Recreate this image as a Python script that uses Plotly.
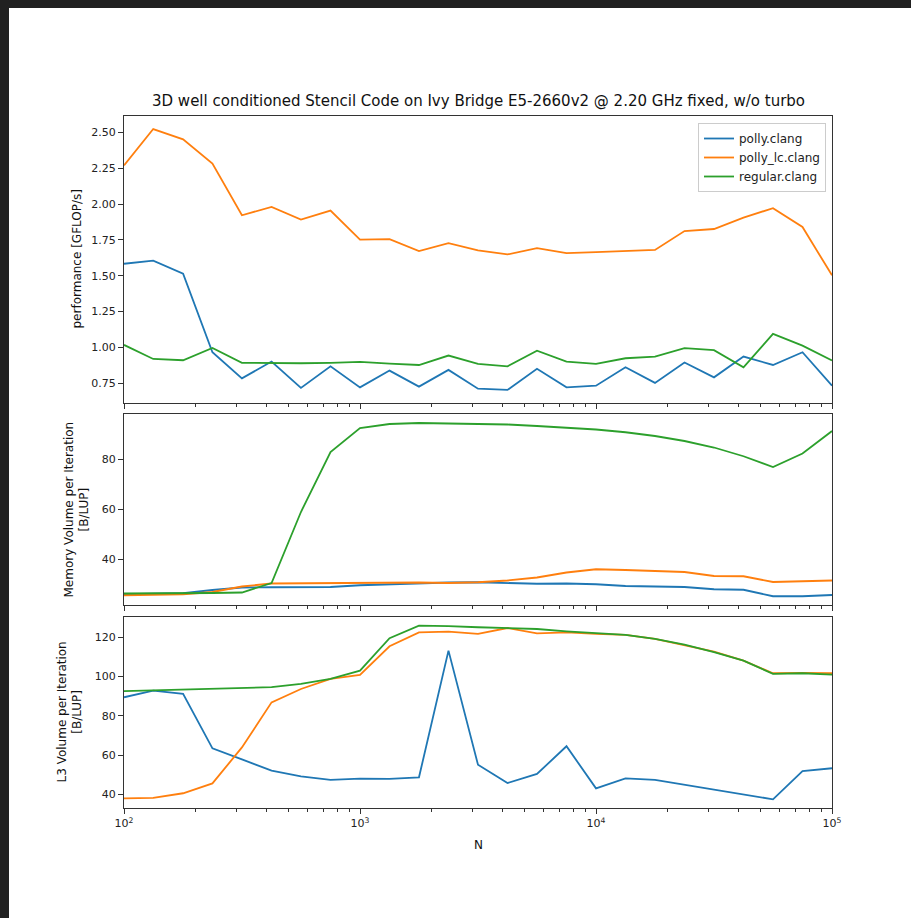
import plotly.graph_objects as go

# ---------------- data ----------------
N = [100, 133, 178, 237, 316, 422, 562, 750, 1000, 1334, 1778, 2371, 3162,
     4217, 5623, 7499, 10000, 13335, 17783, 23714, 31623, 42170, 56234, 74989, 100000]

series_names = ["polly.clang", "polly_lc.clang", "regular.clang"]

perf_polly = [1.584, 1.605, 1.514, 0.967, 0.785, 0.902, 0.718, 0.869, 0.722, 0.839, 0.727, 0.844,
              0.713, 0.704, 0.851, 0.722, 0.734, 0.862, 0.753, 0.895, 0.792, 0.937, 0.878, 0.967, 0.734]
perf_polly_lc = [2.27, 2.523, 2.451, 2.283, 1.922, 1.98, 1.892, 1.955, 1.752, 1.756, 1.672, 1.728,
                 1.677, 1.649, 1.693, 1.658, 1.665, 1.672, 1.68, 1.812, 1.826, 1.906, 1.971, 1.84, 1.503]
perf_regular = [1.018, 0.920, 0.911, 0.997, 0.893, 0.89, 0.89, 0.893, 0.90, 0.888, 0.878, 0.944,
                0.886, 0.869, 0.978, 0.902, 0.886, 0.925, 0.937, 0.995, 0.981, 0.862, 1.095, 1.013, 0.909]

mem_polly = [26.1, 26.3, 26.5, 27.8, 28.8, 28.9, 28.9, 29.0, 29.7, 30.1, 30.4, 30.8, 30.9,
             30.5, 30.3, 30.4, 30.1, 29.4, 29.2, 29.0, 28.1, 27.9, 25.3, 25.3, 25.8]
mem_polly_lc = [25.7, 25.9, 26.1, 27.0, 29.2, 30.4, 30.5, 30.5, 30.6, 30.7, 30.8, 30.6, 30.9,
                31.6, 32.8, 34.8, 36.1, 35.8, 35.4, 35.0, 33.4, 33.3, 31.0, 31.3, 31.6]
mem_regular = [26.4, 26.4, 26.6, 26.6, 26.8, 30.6, 59.0, 83.0, 92.6, 94.2, 94.6, 94.5, 94.3,
               94.0, 93.4, 92.8, 92.0, 90.9, 89.4, 87.4, 84.8, 81.3, 77.0, 82.4, 91.4]

l3_polly = [89.5, 92.9, 91.2, 63.5, 57.9, 52.2, 49.3, 47.5, 48.1, 48.0, 48.8, 113.2, 55.2,
            45.9, 50.5, 64.6, 43.2, 48.3, 47.5, 45.1, 42.4, 40.2, 37.6, 51.9, 53.4]
l3_polly_lc = [38.1, 38.3, 40.7, 45.7, 64.0, 86.9, 93.7, 98.8, 100.9, 115.4, 122.5, 122.9, 121.7,
               124.7, 122.0, 122.5, 121.7, 121.2, 119.2, 116.1, 112.7, 108.1, 101.7, 101.9, 101.8]
l3_regular = [92.6, 93.0, 93.3, 93.6, 94.0, 94.6, 96.3, 98.8, 103.0, 119.5, 125.9, 125.7, 125.1,
              124.6, 124.2, 123.0, 122.0, 121.2, 119.2, 116.3, 112.4, 108.1, 101.4, 101.7, 101.0]

x_tickvals = [100, 1000, 10000, 100000]
x_ticktext = ["10<sup>2</sup>", "10<sup>3</sup>", "10<sup>4</sup>", "10<sup>5</sup>"]

title_text = "3D well conditioned Stencil Code on Ivy Bridge E5-2660v2 @ 2.20 GHz fixed, w/o turbo"
ylabel_top = "performance [GFLOP/s]"
ylabel_mid = "Memory Volume per Iteration<br>[B/LUP]"
ylabel_bot = "L3 Volume per Iteration<br>[B/LUP]"

# ---------------- style ----------------
colors = ["#1f77b4", "#ff7f0e", "#2ca02c"]
FONT = "DejaVu Sans"
AX = "#333333"
DARK = "#212121"
W, H = 911, 918
L, R, T, B = 124, 832, 116, 808  # plot area in pixels
PW, PH = R - L, B - T


def py(p):
    return (B - p) / PH


def px(p):
    return (p - L) / PW


fig = go.Figure()

panels = [
    ("x", "y", [perf_polly, perf_polly_lc, perf_regular], True),
    ("x2", "y2", [mem_polly, mem_polly_lc, mem_regular], False),
    ("x3", "y3", [l3_polly, l3_polly_lc, l3_regular], False),
]
for xa, ya, series, show in panels:
    for name, vals, c in zip(series_names, series, colors):
        fig.add_trace(go.Scatter(x=N, y=vals, mode="lines", name=name,
                                 line=dict(color=c, width=1.8),
                                 xaxis=xa, yaxis=ya, showlegend=show))

common_x = dict(type="log", range=[2, 5], showline=True, linecolor=AX, linewidth=1,
                mirror=True, ticks="outside", ticklen=5, tickcolor=AX, showgrid=False,
                zeroline=False, tickvals=x_tickvals, ticktext=x_ticktext,
                minor=dict(ticks="outside", ticklen=3, tickcolor=AX, dtick="D1", showgrid=False),
                tickfont=dict(family=FONT, size=11, color="#222"))
common_y = dict(showline=True, linecolor=AX, linewidth=1, mirror=True, ticks="outside",
                ticklen=5, tickcolor=AX, showgrid=False, zeroline=False,
                tickfont=dict(family=FONT, size=11, color="#222"))

fig.update_layout(
    width=W, height=H,
    margin=dict(l=L, r=W - R, t=T, b=H - B),
    paper_bgcolor=DARK, plot_bgcolor="white",
    showlegend=True,
    xaxis=dict(common_x, domain=[0, 1], anchor="y", matches="x3", showticklabels=False),
    xaxis2=dict(common_x, domain=[0, 1], anchor="y2", matches="x3", showticklabels=False),
    xaxis3=dict(common_x, domain=[0, 1], anchor="y3"),
    yaxis=dict(common_y, domain=[py(403), 1.0], anchor="x", range=[0.613, 2.614],
               tickvals=[0.75, 1.0, 1.25, 1.5, 1.75, 2.0, 2.25, 2.5], tickformat=".2f"),
    yaxis2=dict(common_y, domain=[py(605), py(414)], anchor="x2", range=[21.8, 98.2],
                tickvals=[40, 60, 80]),
    yaxis3=dict(common_y, domain=[0, py(617)], anchor="x3", range=[33.2, 130.3],
                tickvals=[40, 60, 80, 100, 120]),
    legend=dict(x=px(826), y=py(123), xanchor="right", yanchor="top",
                bgcolor="white", bordercolor="#cccccc", borderwidth=1,
                font=dict(family=FONT, size=12, color="#222"),
                itemwidth=30, tracegroupgap=0),
    shapes=[dict(type="rect", xref="paper", yref="paper", layer="below",
                 x0=px(9), x1=px(W + 20), y0=py(H + 20), y1=py(8),
                 fillcolor="white", line=dict(width=0))],
    annotations=[
        dict(text=title_text, xref="paper", yref="paper", x=0.5, y=py(101),
             xanchor="center", yanchor="middle", showarrow=False,
             font=dict(family=FONT, size=15, color="#111")),
        dict(text=ylabel_top, xref="paper", yref="y domain", x=px(76), y=0.5,
             xanchor="center", yanchor="middle", textangle=-90, showarrow=False,
             font=dict(family=FONT, size=12, color="#111")),
        dict(text=ylabel_mid, xref="paper", yref="y2 domain", x=px(76), y=0.5,
             xanchor="center", yanchor="middle", textangle=-90, showarrow=False,
             font=dict(family=FONT, size=12, color="#111")),
        dict(text=ylabel_bot, xref="paper", yref="y3 domain", x=px(69), y=0.5,
             xanchor="center", yanchor="middle", textangle=-90, showarrow=False,
             font=dict(family=FONT, size=12, color="#111")),
        dict(text="N", xref="paper", yref="paper", x=px(478), y=py(845),
             xanchor="center", yanchor="middle", showarrow=False,
             font=dict(family=FONT, size=12, color="#111")),
    ],
)

fig.write_html(
    "out.html",
    config={"displayModeBar": False},
    post_script="document.documentElement.style.background='%s';"
                "document.body.style.margin='0';"
                "document.body.style.background='%s';"
                "document.body.style.overflow='hidden';" % (DARK, DARK),
)
